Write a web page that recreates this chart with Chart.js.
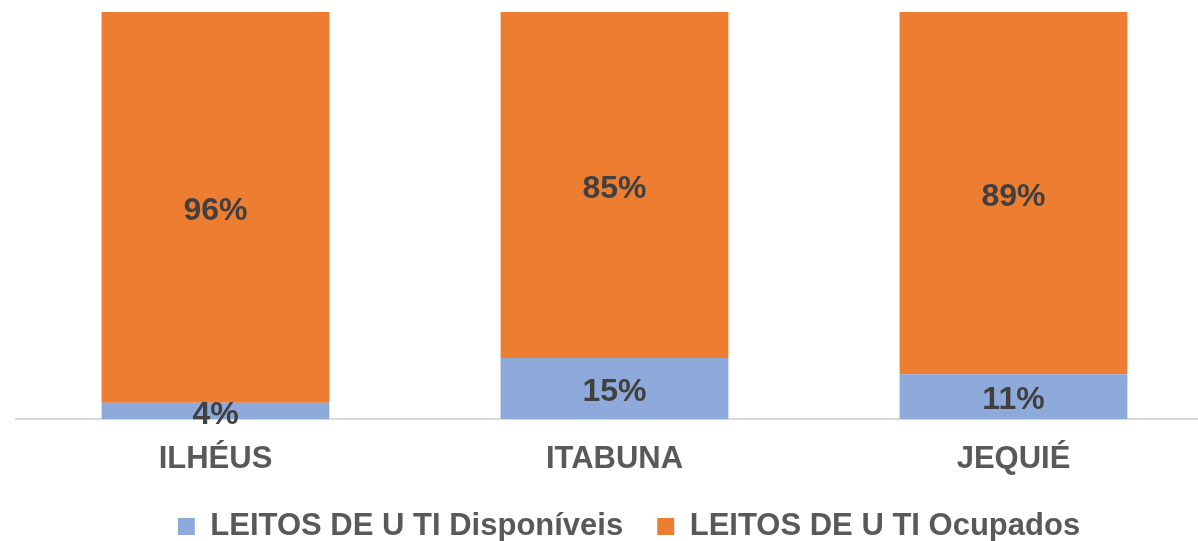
<!DOCTYPE html>
<html>
<head>
<meta charset="utf-8">
<script src="https://cdn.jsdelivr.net/npm/chart.js@4.4.1/dist/chart.umd.min.js"></script>
<style>
  html, body { margin: 0; padding: 0; background: #fff; overflow: hidden; }
  #wrap { width: 1242px; height: 541px; }
</style>
</head>
<body>
<div id="wrap"><canvas id="c" width="1242" height="541"></canvas></div>
<script>
const cities = ['ILHÉUS', 'ITABUNA', 'JEQUIÉ'];
const disponiveis = [4, 15, 11];
const ocupados = [96, 85, 89];
const seriesNames = ['LEITOS DE U TI Disponíveis', 'LEITOS DE U TI Ocupados'];

const FONT = '"Liberation Sans", Arial, sans-serif';

// labels in the middle of every stacked segment
const segLabels = {
  id: 'segLabels',
  afterDatasetsDraw(chart) {
    const ctx = chart.ctx;
    ctx.save();
    ctx.font = 'bold 32px ' + FONT;
    ctx.fillStyle = '#404040';
    ctx.textAlign = 'center';
    ctx.textBaseline = 'middle';
    chart.data.datasets.forEach((ds, i) => {
      chart.getDatasetMeta(i).data.forEach((el, j) => {
        const { x, y, base } = el.getProps(['x', 'y', 'base'], true);
        ctx.fillText(ds.data[j] + '%', x, (y + base) / 2 + 4);
      });
    });
    ctx.restore();
  }
};

// fixed legend height so the plot keeps its room
const legendHeight = {
  id: 'legendHeight',
  beforeInit(chart) {
    const fit = chart.legend.fit;
    chart.legend.fit = function () { fit.call(this); this.height = 64; };
  }
};

new Chart(document.getElementById('c'), {
  type: 'bar',
  data: {
    labels: cities,
    datasets: [
      { label: seriesNames[0], data: disponiveis, backgroundColor: '#8eaadb' },
      { label: seriesNames[1], data: ocupados, backgroundColor: '#ed7d31' }
    ]
  },
  options: {
    responsive: false,
    animation: false,
    devicePixelRatio: 1,
    layout: { padding: { top: 12, left: 16, right: 0, bottom: 0 } },
    datasets: { bar: { categoryPercentage: 1, barPercentage: 0.571 } },
    plugins: {
      legend: {
        position: 'bottom',
        labels: {
          font: { family: FONT, size: 31, weight: 'bold' },
          color: '#595959',
          boxWidth: 17,
          boxHeight: 17,
          padding: 34
        }
      },
      tooltip: { enabled: false }
    },
    scales: {
      x: {
        stacked: true,
        grid: { display: false },
        border: { display: true, color: '#d9d9d9', width: 2 },
        ticks: { font: { family: FONT, size: 31, weight: 'bold' }, color: '#595959', padding: 14 },
        afterFit: s => { s.height = 58; }
      },
      y: {
        stacked: true,
        min: 0,
        max: 100,
        position: 'right',
        grid: { display: false },
        border: { display: false },
        ticks: { display: false },
        afterFit: s => { s.width = 29; }
      }
    }
  },
  plugins: [segLabels, legendHeight]
});
</script>
</body>
</html>
